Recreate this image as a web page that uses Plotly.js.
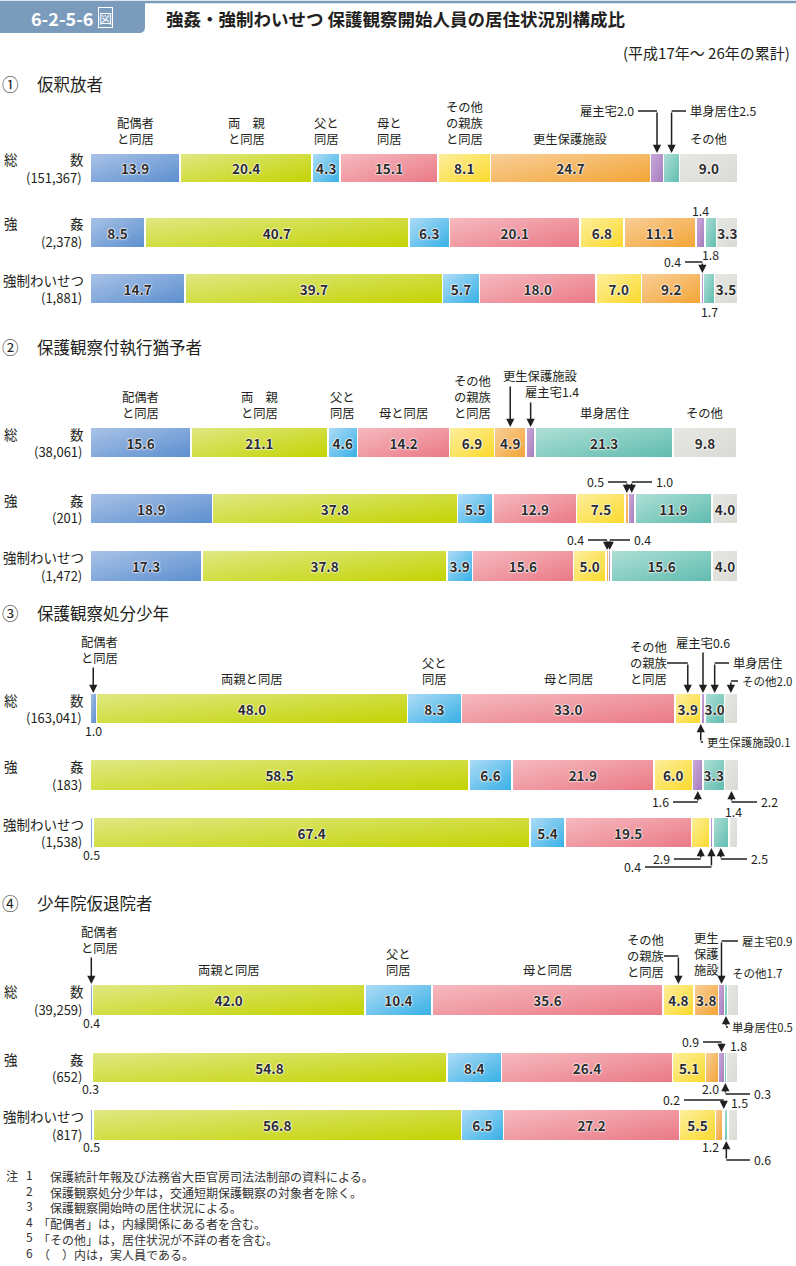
<!DOCTYPE html>
<html><head><meta charset="utf-8">
<script src="https://cdn.plot.ly/plotly-3.0.1.min.js"></script>
<style>html,body{margin:0;padding:0;background:#fff;}#chart{width:796px;height:1266px;}</style>
</head><body><div id="chart"></div>
<script>
// ---------------- data ----------------
const categories = ['配偶者と同居','両親と同居','父と同居','母と同居','その他の親族と同居','更生保護施設','雇主宅','単身居住','その他'];
const sectionNames = ['仮釈放者','保護観察付執行猶予者','保護観察処分少年','少年院仮退院者'];
const sectionMarks = ['①','②','③','④'];
const rowNames = ['総数','強姦','強制わいせつ'];

const paroleCounts = [151367, 2378, 1881];
const suspCounts   = [38061, 201, 1472];
const juvCounts    = [163041, 183, 1538];
const trainCounts  = [39259, 652, 817];

const paroleTotal    = [13.9, 20.4, 4.3, 15.1, 8.1, 24.7, 2.0, 2.5, 9.0];
const paroleRape     = [8.5, 40.7, 6.3, 20.1, 6.8, 11.1, 1.4, 1.8, 3.3];
const paroleIndecent = [14.7, 39.7, 5.7, 18.0, 7.0, 9.2, 0.4, 1.7, 3.5];
const suspTotal      = [15.6, 21.1, 4.6, 14.2, 6.9, 4.9, 1.4, 21.3, 9.8];
const suspRape       = [18.9, 37.8, 5.5, 12.9, 7.5, 0.5, 1.0, 11.9, 4.0];
const suspIndecent   = [17.3, 37.8, 3.9, 15.6, 5.0, 0.4, 0.4, 15.6, 4.0];
const juvTotal       = [1.0, 48.0, 8.3, 33.0, 3.9, 0.1, 0.6, 3.0, 2.0];
const juvRape        = [0, 58.5, 6.6, 21.9, 6.0, 0, 1.6, 3.3, 2.2];
const juvIndecent    = [0.5, 67.4, 5.4, 19.5, 2.9, 0, 0.4, 2.5, 1.4];
const trainTotal     = [0.4, 42.0, 10.4, 35.6, 4.8, 3.8, 0.9, 0.5, 1.7];
const trainRape      = [0.3, 54.8, 8.4, 26.4, 5.1, 2.0, 0.9, 0.3, 1.8];
const trainIndecent  = [0.5, 56.8, 6.5, 27.2, 5.5, 1.2, 0.2, 0.6, 1.5];

const notes = [
  '保護統計年報及び法務省大臣官房司法法制部の資料による。',
  '保護観察処分少年は，交通短期保護観察の対象者を除く。',
  '保護観察開始時の居住状況による。',
  '「配偶者」は，内縁関係にある者を含む。',
  '「その他」は，居住状況が不詳の者を含む。',
  '（　）内は，実人員である。'
];

// ---------------- style / layout constants ----------------
const W = 796, H = 1266, X0 = 90, X1 = 738;
const SCALE = (X1 - X0) / 100;
const F = '"Noto Sans CJK JP", "Noto Sans", sans-serif';
const INK = '#231f20';
const SOLID = ['#7fa6db','#d0dc40','#6fc4ee','#f0949e','#fce260','#f5b766','#b591c9','#82ccc1','#e1e1dd'];
const GRADS = [['#aac3e7','#5b8ecf'],['#e0e884','#c3d300'],['#b0ddf6','#35afe6'],['#f6bbc0','#ea7885'],
               ['#fdef9f','#fbd92a'],['#f8cf99','#f3a435'],['#caabd9','#a47bbd'],['#b0e0d7','#5ebbae'],['#e7e7e3','#dadad5']];
const ROW_PX = [[153,183],[217,248],[273,304],[427,458],[493,524],[550,582],
                [693,724],[759,791],[817,848],[984,1016],[1052,1083],[1109,1141]];
const SEC_Y = [84, 347, 613, 903];

const sectionData = [[paroleTotal,paroleRape,paroleIndecent],[suspTotal,suspRape,suspIndecent],
                     [juvTotal,juvRape,juvIndecent],[trainTotal,trainRape,trainIndecent]];
const countsAll = [paroleCounts, suspCounts, juvCounts, trainCounts];
const rowsData = sectionData.flat();

const yp = y => 1 - y / H;
const xd = px => (px - X0) / SCALE;
function mid(r, c) { let s = 0; for (let i = 0; i < c; i++) s += rowsData[r][i]; return s + rowsData[r][c] / 2; }

// ---------------- traces ----------------
const HALO = '0 0 1px #fff, 0 0 1px #fff, 0 0 2px #fff, 0 0 2px #fff';
const BARFONT = { family: F, size: 13.5, color: '#2b2b2b', weight: 'bold', shadow: HALO };
const traces = [];
rowsData.forEach((vals, r) => {
  const yid = r === 0 ? 'y' : 'y' + (r + 1);
  vals.forEach((v, c) => {
    traces.push({
      type: 'bar', orientation: 'h', x: [v], y: [rowNames[r % 3]], xaxis: 'x', yaxis: yid,
      name: categories[c], meta: c,
      marker: { color: SOLID[c], line: { color: '#ffffff', width: 1.6 } },
      text: [v >= 3 ? v.toFixed(1) : ''], textposition: 'inside', insidetextanchor: 'middle',
      textangle: 0, constraintext: 'none',
      textfont: BARFONT, insidetextfont: BARFONT,
      hoverinfo: 'skip', showlegend: false
    });
  });
});

// ---------------- layout ----------------
const layout = {
  width: W, height: H, margin: { l: 0, r: 0, t: 0, b: 0 },
  paper_bgcolor: '#ffffff', plot_bgcolor: 'rgba(0,0,0,0)',
  barmode: 'stack', bargap: 0, showlegend: false,
  xaxis: { domain: [0, 1], range: [-X0 / SCALE, (W - X0) / SCALE], visible: false, fixedrange: true },
  annotations: [], shapes: []
};
ROW_PX.forEach(([t, b], r) => {
  const key = r === 0 ? 'yaxis' : 'yaxis' + (r + 1);
  layout[key] = { domain: [yp(b), yp(t)], anchor: 'x', type: 'category', range: [-0.5, 0.5], visible: false, fixedrange: true };
});

const ann = layout.annotations, shp = layout.shapes;
function T(x, y, text, o = {}) {
  const a = { xref: 'paper', yref: 'paper', x: x / W, y: yp(y), text, showarrow: false,
    xanchor: o.xa || 'center', yanchor: o.ya || 'middle', align: o.align || 'center',
    font: { family: F, size: o.size || 12.3, color: o.color || INK } };
  if (o.weight) a.font.weight = o.weight;
  if (o.pad !== undefined) a.borderpad = o.pad;
  if (o.border) { a.bordercolor = o.border; a.borderwidth = 1; a.borderpad = 0; }
  ann.push(a);
}
function TD(r, c, y, text, o = {}) {
  ann.push({ xref: 'x', yref: 'paper', x: mid(r, c), y: yp(y), text, showarrow: false,
    xanchor: o.xa || 'center', yanchor: o.ya || 'middle', align: 'center',
    font: { family: F, size: o.size || 12.3, color: INK } });
}
function ARR(r, c, dir, tailY) {
  const headY = dir === 'down' ? ROW_PX[r][0] : ROW_PX[r][1];
  ann.push({ xref: 'x', yref: 'paper', x: mid(r, c), y: yp(headY), ax: 0, ay: tailY - headY,
    axref: 'pixel', ayref: 'pixel', text: '', showarrow: true, arrowhead: 2, arrowsize: 1.1,
    arrowwidth: 1.5, arrowcolor: INK, standoff: 0, startstandoff: 0 });
}
function HL(r, c, y, px) {
  shp.push({ type: 'line', xref: 'x', yref: 'paper', x0: xd(px), x1: mid(r, c), y0: yp(y), y1: yp(y),
    line: { color: INK, width: 1.5 } });
}
function CL(r, c, text, lx, y, dir, size) { T(lx, y, text, { xa: 'right', size }); HL(r, c, y, lx + 2); ARR(r, c, dir, y); }
function CR(r, c, text, rx, y, dir, size) { T(rx, y, text, { xa: 'left', size }); HL(r, c, y, rx - 2); ARR(r, c, dir, y); }
function CAT(r, list, bottom) { list.forEach(([c, t]) => TD(r, c, bottom, t, { ya: 'bottom', size: 12.3 })); }

// header
shp.push({ type: 'line', xref: 'paper', yref: 'paper', x0: 0, x1: 1, y0: yp(2), y1: yp(2), line: { color: '#7b9bbd', width: 2.5 } });
shp.push({ type: 'path', xref: 'paper', yref: 'paper', fillcolor: '#7b9bbd', line: { width: 0 },
  path: `M 0 ${yp(1.5)} L ${145 / W} ${yp(1.5)} L ${145 / W} ${yp(27)} Q ${145 / W} ${yp(33)} ${139 / W} ${yp(33)} L 0 ${yp(33)} Z` });
T(29, 17.5, '6-2-5-6', { xa: 'left', size: 18, color: '#ffffff', weight: 'bold' });
T(105.5, 17.5, '図', { size: 13, color: '#ffffff', border: '#ffffff' });
T(164, 18.5, '強姦・強制わいせつ 保護観察開始人員の居住状況別構成比', { xa: 'left', size: 17.5, weight: 'bold' });
T(792, 52, '(平成17年～ 26年の累計)', { xa: 'right', size: 15 });

// section headers
SEC_Y.forEach((y, s) => { T(10, y, sectionMarks[s], { size: 16.5 }); T(35, y, sectionNames[s], { xa: 'left', size: 16.5 }); });

// row labels
ROW_PX.forEach(([t, b], r) => {
  const cy = (t + b) / 2, k = r % 3, s = Math.floor(r / 3);
  if (k === 0) { T(2, cy - 9, '総', { xa: 'left', size: 13.5 }); T(86, cy - 9, '数', { xa: 'right', size: 13.5 }); }
  else if (k === 1) { T(2, cy - 9, '強', { xa: 'left', size: 13.5 }); T(86, cy - 9, '姦', { xa: 'right', size: 13.5 }); }
  else { T(86, cy - 9, '強制わいせつ', { xa: 'right', size: 13.5 }); }
  T(84, cy + 9, '(' + countsAll[s][k].toLocaleString('en-US') + ')', { xa: 'right', size: 13 });
});

// category labels
CAT(0, [[0,'配偶者<br>と同居'],[1,'両　親<br>と同居'],[2,'父と<br>同居'],[3,'母と<br>同居'],[4,'その他<br>の親族<br>と同居'],[5,'更生保護施設'],[8,'その他']], 150);
CAT(3, [[0,'配偶者<br>と同居'],[1,'両　親<br>と同居'],[2,'父と<br>同居'],[3,'母と同居'],[4,'その他<br>の親族<br>と同居'],[7,'単身居住'],[8,'その他']], 424);
CAT(6, [[1,'両親と同居'],[2,'父と<br>同居'],[3,'母と同居']], 690);
CAT(9, [[1,'両親と同居'],[2,'父と<br>同居'],[3,'母と同居'],[5,'更生<br>保護<br>施設']], 981);

// ① callouts
CL(0, 6, '雇主宅2.0', 636, 111, 'down');
CR(0, 7, '単身居住2.5', 688, 111, 'down');
TD(1, 6, 211, '1.4');
TD(1, 7, 255, '1.8');
CL(2, 6, '0.4', 683, 262, 'down');
TD(2, 7, 312, '1.7');
// ② callouts
T(540, 376, '更生保護施設'); ARR(3, 5, 'down', 385);
T(552, 392, '雇主宅1.4'); ARR(3, 6, 'down', 401);
CL(4, 5, '0.5', 606, 482, 'down'); CR(4, 6, '1.0', 654, 482, 'down');
CL(5, 5, '0.4', 586, 540, 'down'); CR(5, 6, '0.4', 632, 540, 'down');
// ③ callouts
T(100, 650, '配偶者<br>と同居'); ARR(6, 0, 'down', 666);
TD(6, 0, 731, '1.0');
T(648, 663, 'その他<br>の親族<br>と同居'); HL(6, 4, 663, 667); ARR(6, 4, 'down', 663);
CR(6, 5, '更生保護施設0.1', 705, 742, 'up', 11.3);
T(703, 643, '雇主宅0.6'); ARR(6, 6, 'down', 651);
CR(6, 7, '単身居住', 731, 663, 'down');
CR(6, 8, 'その他2.0', 740, 681, 'down', 11.5);
CL(7, 6, '1.6', 671, 802, 'up'); CR(7, 8, '2.2', 759, 802, 'up');
TD(8, 0, 855, '0.5');
CL(8, 4, '2.9', 672, 859, 'up'); CL(8, 6, '0.4', 643, 867, 'up'); CR(8, 7, '2.5', 749, 859, 'up');
TD(8, 8, 812, '1.4');
// ④ callouts
T(100, 940, '配偶者<br>と同居'); ARR(9, 0, 'down', 956);
TD(9, 0, 1023, '0.4');
T(645, 956, 'その他<br>の親族<br>と同居'); HL(9, 4, 956, 664); ARR(9, 4, 'down', 956);
CR(9, 6, '雇主宅0.9', 740, 941, 'down', 11.5);
T(730, 973, 'その他1.7', { xa: 'left', size: 11.5 });
CR(9, 7, '単身居住0.5', 730, 1027, 'up', 11.3);
TD(10, 0, 1089, '0.3');
CL(10, 6, '0.9', 701, 1042, 'down');
T(728, 1046, '1.8', { xa: 'left' });
T(721, 1089, '2.0', { xa: 'right' });
CR(10, 7, '0.3', 752, 1094, 'up');
TD(11, 0, 1147, '0.5');
CL(11, 6, '0.2', 682, 1100, 'down');
T(729, 1103, '1.5', { xa: 'left' });
T(721, 1147, '1.2', { xa: 'right' });
CR(11, 7, '0.6', 752, 1160, 'up');

// notes (two text blocks so that the bracketed lines line up like the original)
const NOTE_FONT = 12;
T(5, 1175, '注', { xa: 'left', size: NOTE_FONT, color: '#333', pad: 0 });
T(30, 1213.5, notes.map((t, i) => String(i + 1)).join('<br>'), { size: NOTE_FONT, color: '#333', pad: 0 });
T(49, 1175, notes.slice(0, 3).join('<br>'), { xa: 'left', ya: 'top', align: 'left', size: NOTE_FONT, color: '#333', pad: 0 });
T(37, 1213.5, notes.slice(3).join('<br>'), { xa: 'left', ya: 'top', align: 'left', size: NOTE_FONT, color: '#333', pad: 0 });
ann[ann.length - 2].y = yp(1175 - 7.8);
ann[ann.length - 1].y = yp(1175 - 7.8 + 3 * 15.6);

Plotly.newPlot('chart', traces, layout, { staticPlot: true, displayModeBar: false }).then(gd => {
  const NS = 'http://www.w3.org/2000/svg';
  const svg = gd.querySelector('svg.main-svg');
  let defs = svg.querySelector('defs');
  if (!defs) { defs = document.createElementNS(NS, 'defs'); svg.insertBefore(defs, svg.firstChild); }
  GRADS.forEach((g, i) => {
    const lg = document.createElementNS(NS, 'linearGradient');
    lg.setAttribute('id', 'barGrad' + i);
    lg.setAttribute('x1', '0'); lg.setAttribute('y1', '0'); lg.setAttribute('x2', '1'); lg.setAttribute('y2', '1');
    [[0, g[0]], [1, g[1]]].forEach(([o, col]) => {
      const s = document.createElementNS(NS, 'stop');
      s.setAttribute('offset', o); s.setAttribute('stop-color', col); lg.appendChild(s);
    });
    defs.appendChild(lg);
  });
  gd.querySelectorAll('.barlayer .trace').forEach(tg => {
    const cd = tg.__data__; const tr = cd && cd[0] && cd[0].trace; if (!tr) return;
    const c = tr._input ? tr._input.meta : tr.meta; if (c === undefined || c === null) return;
    tg.querySelectorAll('path').forEach(p => { p.style.fill = 'url(#barGrad' + c + ')'; });
  });
});
</script>
</body></html>
